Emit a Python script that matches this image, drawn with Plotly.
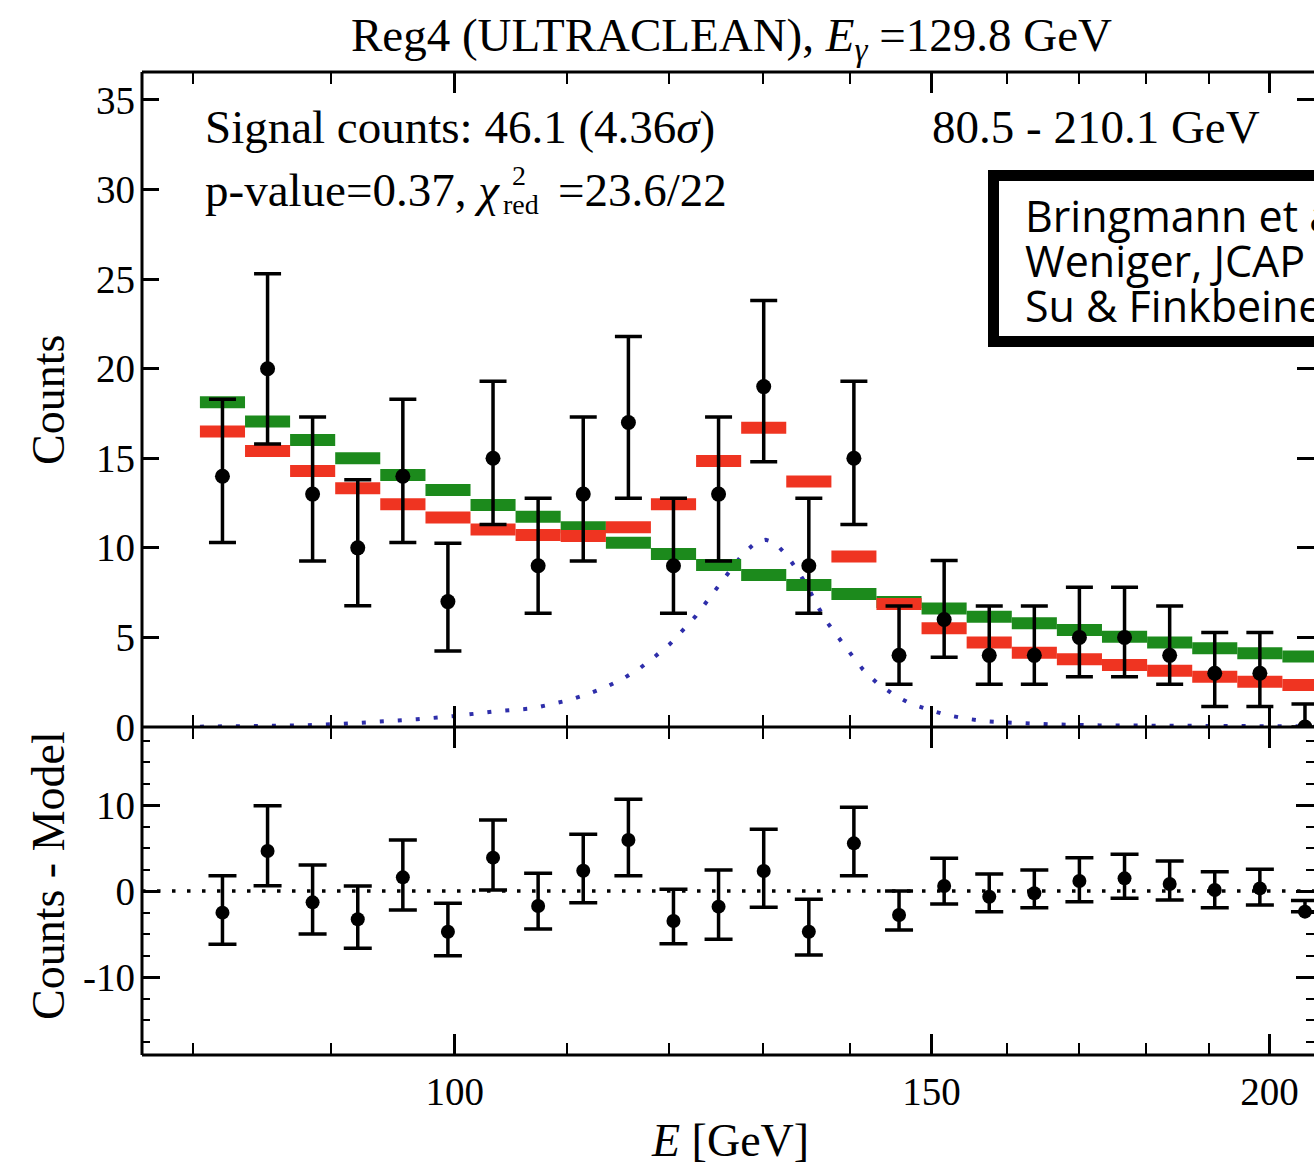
import math
import plotly.graph_objects as go

# ---------------- data ----------------
bin_edges = [80.5, 83.65, 86.92, 90.32, 93.85, 97.53, 101.34, 105.30, 109.42, 113.71,
             118.15, 122.78, 127.58, 132.57, 137.76, 143.14, 148.74, 154.56, 160.61,
             166.89, 173.42, 180.21, 187.26, 194.58, 202.19, 210.1]
bin_centers = [82.06, 85.27, 88.60, 92.07, 95.67, 99.41, 103.30, 107.34, 111.54, 115.91,
               120.44, 125.15, 130.05, 135.14, 140.42, 145.92, 151.63, 157.56, 163.72,
               170.12, 176.78, 183.70, 190.88, 198.35, 206.11]
counts = [14, 20, 13, 10, 14, 7, 15, 9, 13, 17, 9, 13, 19, 9, 15, 4, 6, 4, 4, 5, 5, 4, 3, 3, 0]
counts_upper = [18.3, 25.3, 17.3, 13.8, 18.3, 10.25, 19.3, 12.77, 17.3, 21.8, 12.77, 17.3,
                23.8, 12.77, 19.3, 6.75, 9.3, 6.75, 6.75, 7.8, 7.8, 6.75, 5.27, 5.27, 1.29]
counts_lower = [10.3, 15.8, 9.27, 6.77, 10.3, 4.24, 11.3, 6.35, 9.27, 12.77, 6.35, 9.27,
                14.8, 6.35, 11.3, 2.38, 3.89, 2.38, 2.38, 2.81, 2.81, 2.38, 1.14, 1.14, 0.0]
model_background = [18.12, 17.05, 16.02, 15.0, 14.07, 13.23, 12.39, 11.74, 11.15, 10.29,
                    9.66, 9.04, 8.49, 7.93, 7.42, 6.98, 6.62, 6.16, 5.79, 5.41, 5.04, 4.71,
                    4.39, 4.11, 3.93]
model_total = [16.49, 15.41, 14.29, 13.32, 12.43, 11.69, 11.03, 10.72, 10.66, 11.15, 12.43,
               14.85, 16.71, 13.7, 9.51, 6.87, 5.51, 4.71, 4.15, 3.78, 3.46, 3.14, 2.81,
               2.53, 2.34]
line_energy = [80.5, 84.73, 87.88, 90.69, 93.66, 96.82, 100.0, 103.29, 106.86, 108.60,
               110.27, 111.97, 113.80, 115.46, 117.04, 118.55, 120.07, 121.41, 122.76,
               124.02, 125.29, 126.58, 127.77, 129.30, 130.29, 131.29, 132.75, 134.0,
               135.14, 136.18, 137.34, 138.63, 140.05, 141.49, 143.18, 145.14, 147.25,
               149.77, 151.95, 154.29, 156.94, 159.63, 165.85, 173.07, 188.45, 207.7]
line_counts = [0.02, 0.05, 0.09, 0.17, 0.28, 0.43, 0.61, 0.86, 1.04, 1.27, 1.51, 1.84,
               2.25, 2.72, 3.28, 3.93, 4.63, 5.41, 6.2, 7.09, 7.93, 8.86, 9.66, 10.35,
               10.45, 10.29, 9.51, 8.62, 7.7, 6.72, 5.79, 4.95, 4.08, 3.22, 2.47, 1.84,
               1.32, 0.95, 0.67, 0.48, 0.33, 0.26, 0.15, 0.09, 0.05, 0.03]
residuals = [-2.52, 4.65, -1.32, -3.29, 1.59, -4.73, 3.88, -1.74, 2.36, 5.93, -3.49, -1.82,
             2.33, -4.73, 5.54, -2.79, 0.58, -0.66, -0.27, 1.16, 1.47, 0.81, 0.12, 0.3, -2.4]
residuals_upper = [1.78, 9.92, 3.02, 0.58, 5.93, -1.43, 8.26, 2.05, 6.59, 10.66, 0.19, 2.44,
                   7.17, -0.97, 9.73, 0.0, 3.8, 1.98, 2.44, 3.88, 4.26, 3.49, 2.25, 2.52, -1.1]
residuals_lower = [-6.2, 0.62, -5.0, -6.67, -2.21, -7.52, 0.12, -4.42, -1.36, 1.78, -6.12,
                   -5.62, -1.9, -7.44, 1.78, -4.53, -1.51, -2.4, -1.94, -1.24, -0.85, -1.05,
                   -1.94, -1.63, -2.4]

x_range_gev = [76.63, 207.7]
x_major_ticks = [100, 150, 200]
x_minor_ticks = [80, 90, 110, 120, 130, 140, 160, 170, 180, 190]
y_top_ticks = [0, 5, 10, 15, 20, 25, 30, 35]
y_top_range = [0, 36.56]
y_bot_ticks = [-10, 0, 10]
y_bot_ticktext = ["-10", "0", "10"]
y_bot_minor = [-17.5, -15, -12.5, -7.5, -5, -2.5, 2.5, 5, 7.5, 12.5, 15, 17.5]
y_bot_range = [-19.07, 19.07]

# ---------------- geometry (pixels of the 1314x1168 page) ----------------
W, H = 1314, 1168
PL, PR, PT, PB = 142, 1314, 72, 1055
SPLIT_PX = 727


def px(x):
    return (x - PL) / (PR - PL)


def py(y):
    return (PB - y) / (PB - PT)


split = py(SPLIT_PX)

SERIF = "Liberation Serif"
SANS = "Open Sans"


def steps(vals):
    xs, ys = [], []
    for i, v in enumerate(vals):
        xs += [bin_edges[i], bin_edges[i + 1], None]
        ys += [v, v, None]
    return xs, ys


fig = go.Figure()

fig.add_trace(go.Scatter(
    x=line_energy, y=line_counts, mode="lines",
    line=dict(color="#2e2eaa", width=4, dash="4px,14px"),
    xaxis="x", yaxis="y", hoverinfo="skip"))

gx, gy = steps(model_background)
fig.add_trace(go.Scatter(x=gx, y=gy, mode="lines",
                         line=dict(color="#1c8a1c", width=12),
                         xaxis="x", yaxis="y", hoverinfo="skip"))
rx, ry = steps(model_total)
fig.add_trace(go.Scatter(x=rx, y=ry, mode="lines",
                         line=dict(color="#ef3421", width=12),
                         xaxis="x", yaxis="y", hoverinfo="skip"))

fig.add_trace(go.Scatter(
    x=bin_centers, y=counts, mode="markers",
    marker=dict(color="black", size=15),
    error_y=dict(type="data", symmetric=False,
                 array=[u - c for u, c in zip(counts_upper, counts)],
                 arrayminus=[c - l for c, l in zip(counts, counts_lower)],
                 color="black", thickness=3.5, width=13.5),
    xaxis="x", yaxis="y"))

fig.add_trace(go.Scatter(
    x=bin_centers, y=residuals, mode="markers",
    marker=dict(color="black", size=14),
    error_y=dict(type="data", symmetric=False,
                 array=[u - r for u, r in zip(residuals_upper, residuals)],
                 arrayminus=[r - l for r, l in zip(residuals, residuals_lower)],
                 color="black", thickness=3.5, width=14),
    xaxis="x2", yaxis="y2"))

xr = [math.log10(x_range_gev[0]), math.log10(x_range_gev[1])]

xcommon = dict(type="log", range=xr, tickmode="array", tickvals=x_major_ticks,
               ticks="inside", ticklen=21, tickwidth=2.5, tickcolor="black",
               mirror="ticks", showline=False, showgrid=False, zeroline=False,
               minor=dict(tickmode="array", tickvals=x_minor_ticks, ticks="inside",
                          ticklen=12, tickwidth=2, tickcolor="black", showgrid=False))

fig.update_layout(
    width=W, height=H,
    margin=dict(l=PL, r=W - PR, t=PT, b=H - PB, pad=0),
    paper_bgcolor="white", plot_bgcolor="white",
    showlegend=False,
    font=dict(family=SERIF, color="black"),
    xaxis=dict(**xcommon, domain=[0, 1], anchor="y", showticklabels=False),
    xaxis2=dict(**xcommon, domain=[0, 1], anchor="y2", matches="x",
                showticklabels=True, ticktext=["100", "150", "200"],
                tickfont=dict(family=SERIF, size=39, color="black"),
                ticklabelstandoff=10),
    yaxis=dict(domain=[split, 1], anchor="x", range=y_top_range, tickmode="array",
               tickvals=y_top_ticks, ticks="inside", ticklen=17, tickwidth=2.5,
               tickcolor="black", mirror="ticks", showline=False, showgrid=False,
               zeroline=False, tickfont=dict(family=SERIF, size=39, color="black"),
               ticklabelstandoff=6),
    yaxis2=dict(domain=[0, split], anchor="x2", range=y_bot_range, tickmode="array",
                tickvals=y_bot_ticks, ticktext=y_bot_ticktext, ticks="inside",
                ticklen=18, tickwidth=2.5, tickcolor="black", mirror="ticks",
                showline=False, showgrid=False, zeroline=False,
                tickfont=dict(family=SERIF, size=39, color="black"),
                ticklabelstandoff=6,
                minor=dict(tickmode="array", tickvals=y_bot_minor, ticks="inside",
                           ticklen=8, tickwidth=2, tickcolor="black", showgrid=False)),
)

shapes = [
    # dotted zero line of the residual panel
    dict(type="line", xref="paper", yref="y2", x0=0, x1=1, y0=0, y1=0, layer="below",
         line=dict(color="black", width=3.5, dash="3.5px,11.5px")),
    # frame
    dict(type="line", xref="paper", yref="paper", x0=0, x1=0, y0=0, y1=1,
         line=dict(color="black", width=3)),
    dict(type="line", xref="paper", yref="paper", x0=0, x1=1, y0=1, y1=1,
         line=dict(color="black", width=3)),
    dict(type="line", xref="paper", yref="paper", x0=0, x1=1, y0=split, y1=split,
         line=dict(color="black", width=3)),
    dict(type="line", xref="paper", yref="paper", x0=0, x1=1, y0=0, y1=0,
         line=dict(color="black", width=3)),
    # reference box (runs off the right edge of the picture)
    dict(type="rect", xref="paper", yref="paper", x0=px(993.5), x1=px(1400),
         y0=py(341.5), y1=py(175.5), fillcolor="white", layer="above",
         line=dict(color="black", width=11)),
]
fig.update_layout(shapes=shapes)

ann = []


def add_text(text, x, y, size, family=SERIF, xanchor="left", angle=0):
    ann.append(dict(text=text, x=px(x), y=py(y), xref="paper", yref="paper",
                    showarrow=False, xanchor=xanchor, yanchor="middle",
                    textangle=angle, font=dict(family=family, size=size, color="black")))


add_text("Reg4 (ULTRACLEAN), <i>E</i><sub><i>γ</i></sub> =129.8 GeV", 731, 38, 47,
         xanchor="center")
add_text("Signal counts: 46.1 (4.36<i>σ</i>)", 203, 127, 47)
add_text("p-value=0.37, <i>χ</i>", 203, 190, 47)
add_text("2", 519, 176, 28, xanchor="center")
add_text("red", 521, 205, 28, xanchor="center")
add_text("=23.6/22", 556, 190, 47)
add_text("80.5 - 210.1 GeV", 1262, 127, 47, xanchor="right")
add_text("Bringmann et al., JCAP 2012", 1023, 215, 43, family=SANS)
add_text("Weniger, JCAP 2012", 1023, 260, 43, family=SANS)
add_text("Su & Finkbeiner 2012", 1023, 305, 43, family=SANS)
add_text("Counts", 48, 400, 46, xanchor="center", angle=-90)
add_text("Counts - Model", 48, 876, 46, xanchor="center", angle=-90)
add_text("<i>E</i> [GeV]", 730, 1140, 46, xanchor="center")
fig.update_layout(annotations=ann)

fig.write_html("out.html", config={"displayModeBar": False},
               post_script="document.body.style.margin='0px';document.body.style.overflow='hidden';")
